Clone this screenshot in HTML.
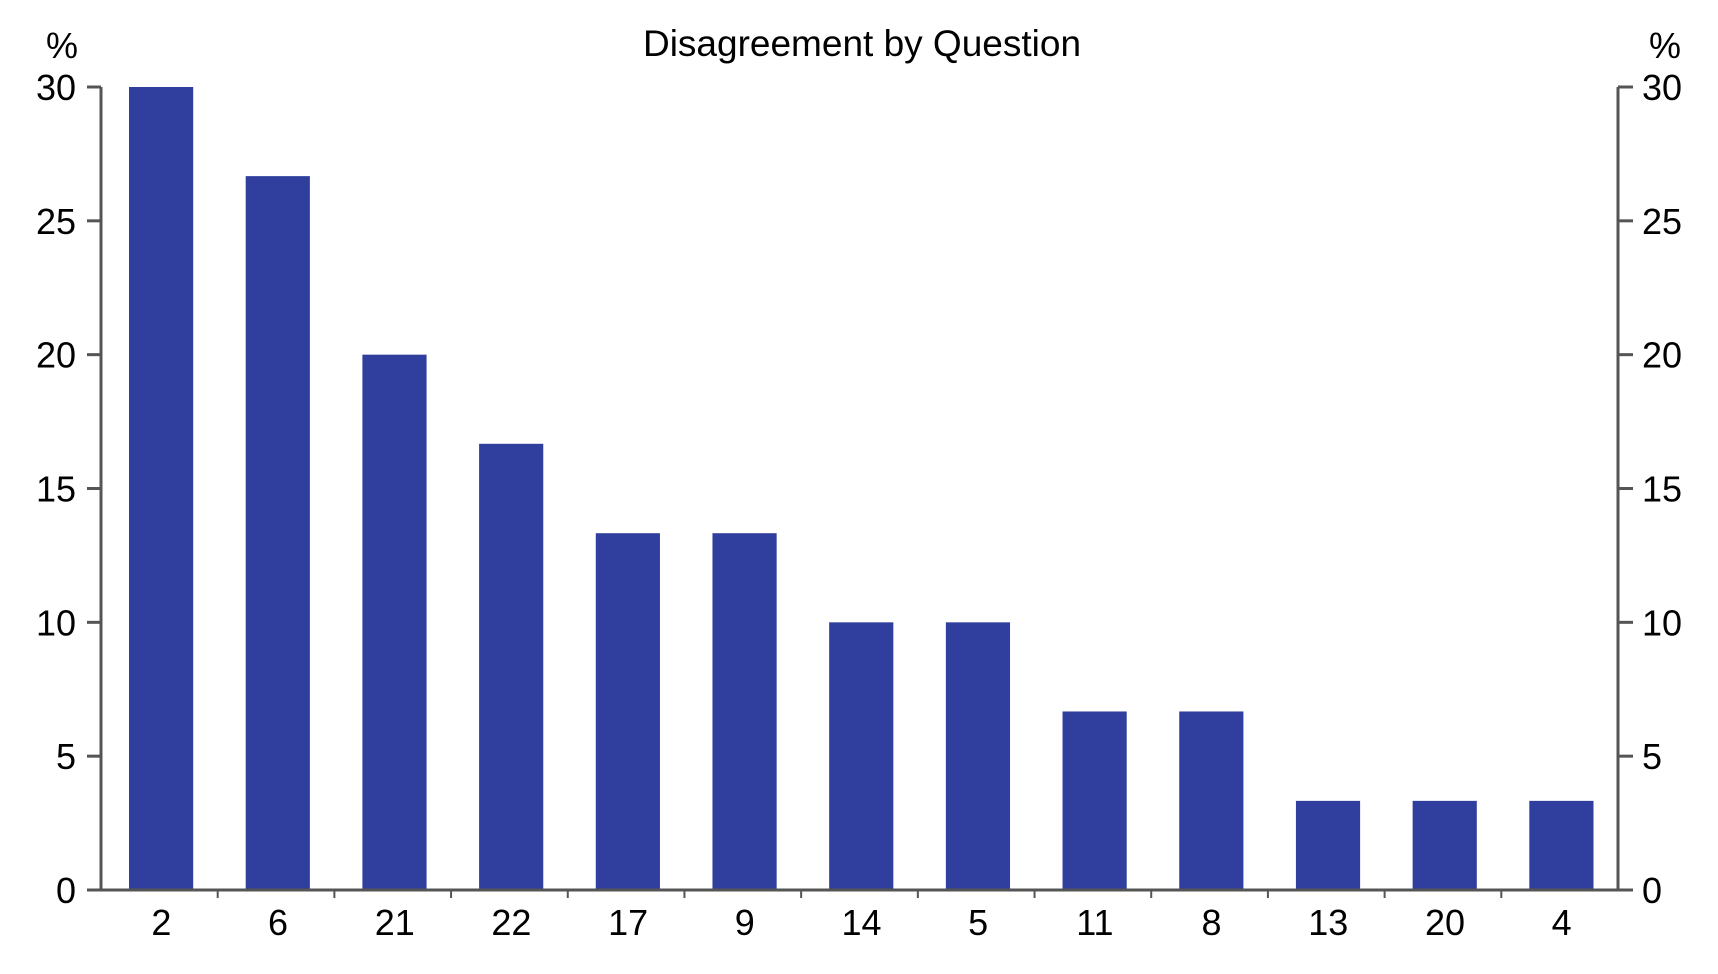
<!DOCTYPE html>
<html><head><meta charset="utf-8"><style>
body{margin:0;background:#fff}
text{font-family:"Liberation Sans",Arial,sans-serif;fill:#000}
</style></head><body>
<svg id="chart" width="1718" height="969" xmlns="http://www.w3.org/2000/svg">
<text x="862" y="56" font-size="37" text-anchor="middle">Disagreement by Question</text>
<text x="62" y="58" font-size="36" text-anchor="middle">%</text>
<text x="1665" y="58" font-size="36" text-anchor="middle">%</text>
<g id="bars"></g><g id="axes"></g>
</svg>
<script>
const categories=["2","6","21","22","17","9","14","5","11","8","13","20","4"];
const values=[30,26.67,20,16.67,13.33,13.33,10,10,6.67,6.67,3.33,3.33,3.33];
const yTicks=[0,5,10,15,20,25,30];
const L=101,R=1618,T=87,B=890,yMax=30;
const NS="http://www.w3.org/2000/svg";
const bw=(R-L)/categories.length;
const y=v=>B-(v/yMax)*(B-T);
const x=i=>L+i*bw;
const bars=document.getElementById('bars'),axes=document.getElementById('axes');
function mk(tag,attrs,parent){const e=document.createElementNS(NS,tag);for(const k in attrs)e.setAttribute(k,attrs[k]);parent.appendChild(e);return e;}
values.forEach((v,i)=>{
 const r=mk('rect',{x:x(i)+bw*0.24,y:y(v),width:bw*0.55,height:B-y(v),fill:'#303F9E'},bars);
 
 
 const t=mk('text',{x:x(i)+bw/2+2,y:935,'font-size':36,'text-anchor':'middle'},axes);
 t.textContent=categories[i];
 
 
 if(i>0){const tk=mk('line',{x1:x(i),x2:x(i),y1:B,y2:B+8,stroke:'#555','stroke-width':2},axes);
 
 }
});
const st={stroke:'#555','stroke-width':3};
let a=mk('line',Object.assign({x1:L,x2:L,y1:T,y2:B},st),axes);


a=mk('line',Object.assign({x1:R,x2:R,y1:T,y2:B},st),axes);


a=mk('line',Object.assign({x1:L,x2:R+15,y1:B,y2:B},st),axes);


yTicks.forEach(v=>{
 let l=mk('line',Object.assign({x1:L-14,x2:L,y1:y(v),y2:y(v)},st),axes);
 
 
 l=mk('line',Object.assign({x1:R,x2:R+15,y1:y(v),y2:y(v)},st),axes);
 
 
 let t=mk('text',{x:76,y:y(v)+13,'font-size':36,'text-anchor':'end'},axes);
 t.textContent=v;
 
 
 t=mk('text',{x:1642,y:y(v)+13,'font-size':36,'text-anchor':'start'},axes);
 t.textContent=v;
 
 
});
</script>
</body></html>
